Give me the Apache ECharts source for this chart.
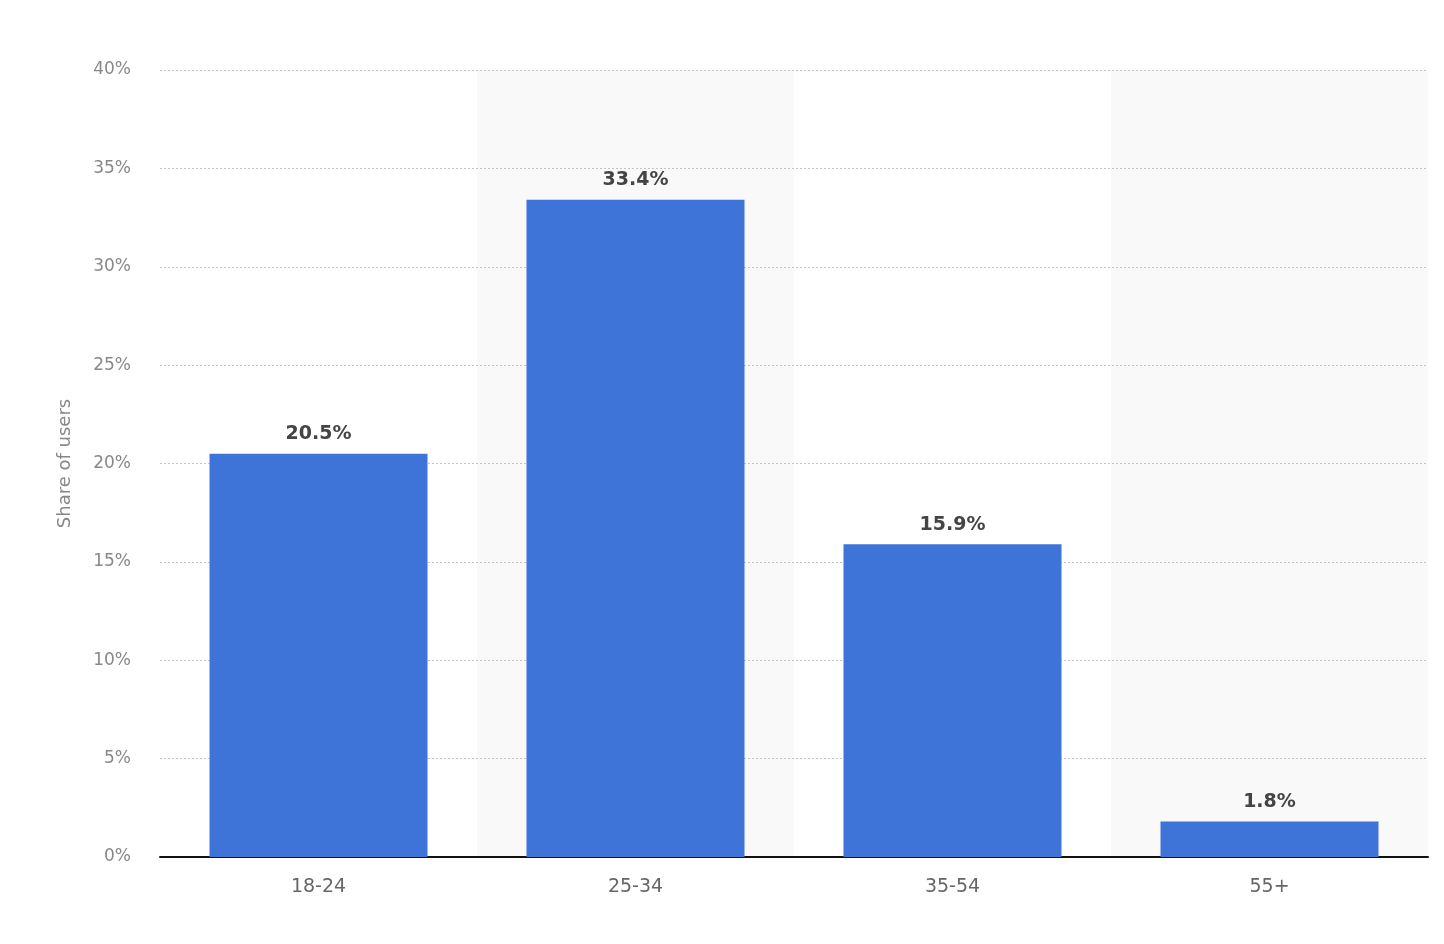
<!DOCTYPE html>
<html>
<head>
<meta charset="utf-8">
<script src="https://cdn.jsdelivr.net/npm/echarts@6/dist/echarts.min.js"></script>
<style>
html, body { margin: 0; padding: 0; background: #fff; }
#main { width: 1444px; height: 944px; }
</style>
</head>
<body>
<div id="main"></div>
<script>
var ageGroups = ['18-24', '25-34', '35-54', '55+'];
var shareOfUsers = [20.5, 33.4, 15.9, 1.8];
var yTicks = [0, 5, 10, 15, 20, 25, 30, 35, 40];

var myChart = echarts.init(document.getElementById('main'));

option = {
    animation: false,
    textStyle: { fontFamily: 'DejaVu Sans' },
    grid: {
        left: 160,
        right: 16,
        top: 70,
        bottom: 87
    },
    xAxis: {
        type: 'category',
        data: ageGroups,
        z: 0,
        axisLine: { lineStyle: { color: '#111', width: 2 } },
        axisTick: { show: false },
        axisLabel: { color: '#666', fontSize: 19, margin: 21 },
        splitArea: {
            show: true,
            areaStyle: { color: ['rgba(0,0,0,0)', '#f9f9f9'] }
        }
    },
    yAxis: {
        type: 'value',
        z: 1,
        min: yTicks[0],
        max: yTicks[yTicks.length - 1],
        interval: 5,
        name: 'Share of users',
        nameLocation: 'middle',
        nameGap: 86,
        nameTextStyle: { color: '#888', fontSize: 18 },
        axisLine: { show: false },
        axisTick: { show: false },
        axisLabel: { color: '#888', fontSize: 17, margin: 29, formatter: '{value}%' },
        splitLine: {
            showMinLine: false,
            lineStyle: { color: '#c4c4c4', type: [2, 2], width: 1 }
        }
    },
    series: [
        {
            name: 'Share of users',
            type: 'bar',
            z: 2,
            data: shareOfUsers,
            barWidth: 218,
            itemStyle: { color: '#3e73d8' },
            label: {
                show: true,
                position: 'top',
                distance: 10,
                color: '#444',
                fontSize: 19,
                fontWeight: 'bold',
                formatter: '{c}%'
            }
        }
    ]
};

myChart.setOption(option);
</script>
</body>
</html>
